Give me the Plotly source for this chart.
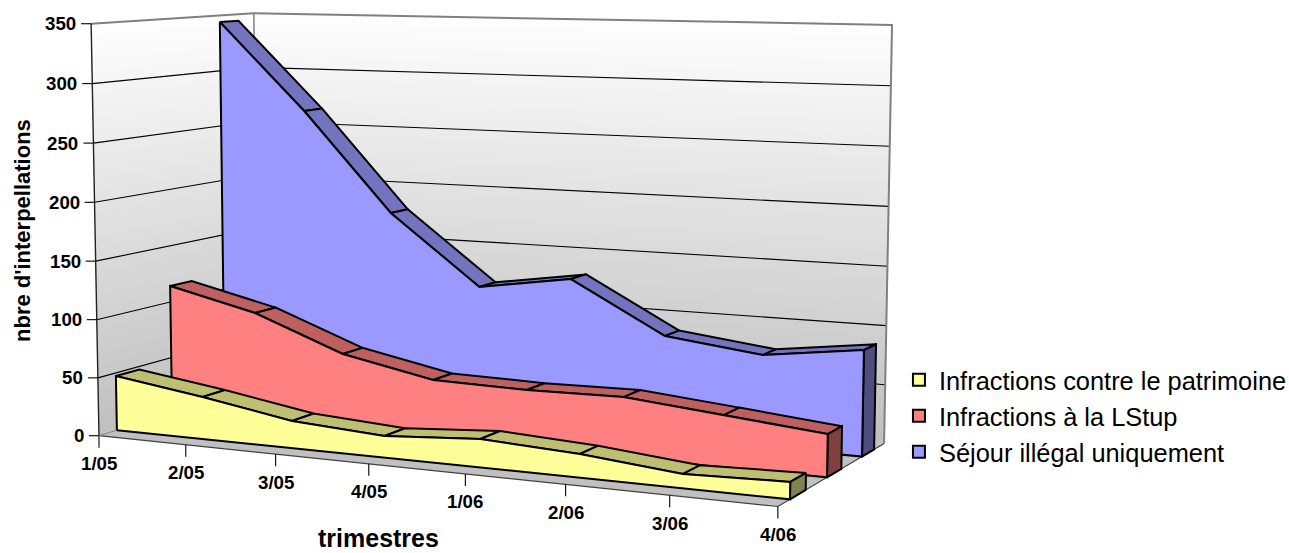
import numpy as np
import plotly.graph_objects as go

QUARTERS = ["1/05","2/05","3/05","4/05","1/06","2/06","3/06","4/06"]
YELLOW_VALUES = [47.3,36.1,23.0,18.0,23.3,19.0,11.3,13.4]
RED_VALUES = [114.3,95.9,66.2,50.4,48.8,50.0,42.5,34.7]
BLUE_VALUES = [344.1,266.3,178.9,118.4,130.7,87.5,77.7,88.3]
Z_TICKS = [0,50,100,150,200,250,300,350]
SERIES_NAMES = ["Infractions contre le patrimoine","Infractions à la LStup","Séjour illégal uniquement"]

W,H=1289,553
# camera calibration for the 3-D box: box corner (category, depth, value) -> page position
ANCHORS=[((0,0,0),(99,435)),((0,0,350),(91,24)),((0,1,350),(254,13)),((7,1,350),(892,25)),
         ((7,0,0),(778,507)),((7,1,0),(884,443)),((0,1,0),(258,387))]
def solve_camera():
    rows=[]
    for (x,d,z),(u,v) in ANCHORS:
        P=[x/7,d,z/350,1]
        rows.append([*P,0,0,0,0,*[-u/1000*c for c in P]])
        rows.append([0,0,0,0,*P,*[-v/1000*c for c in P]])
    return np.linalg.svd(np.array(rows))[2][-1].reshape(3,4)
M=solve_camera()
def project(x,d,z):
    h=M@np.array([x/7,d,z/350,1.0])
    return float(1000*h[0]/h[2]),float(1000*h[1]/h[2])

fig=go.Figure()
def poly(pts,fill=None,line='black',width=2,closed=True):
    P=[project(*p) for p in pts]
    xs=[q[0] for q in P];ys=[q[1] for q in P]
    if closed: xs.append(xs[0]);ys.append(ys[0])
    fig.add_trace(go.Scatter(x=xs,y=ys,mode='lines' if line else 'none',fill='toself' if fill else 'none',fillcolor=fill,
        line=dict(color=line or 'rgba(0,0,0,0)',width=width),hoverinfo='skip',showlegend=False))
def slab(vals,d0,d1,cf,ct,cs):
    n=len(vals)
    for t in range(n-1):
        poly([(t,d0,vals[t]),(t,d1,vals[t]),(t+1,d1,vals[t+1]),(t+1,d0,vals[t+1])],ct)
    poly([(n-1,d0,0),(n-1,d0,vals[-1]),(n-1,d1,vals[-1]),(n-1,d1,0)],cs)
    poly([(0,d0,0)]+[(t,d0,vals[t]) for t in range(n)]+[(n-1,d0,0)],cf)

# walls: gradient drawn by overpainting from the floor upward
GRAD_Z=list(range(0,350,10))
for z in GRAD_Z:
    g=int(round(0xc0+(0xff-0xc0)*z/350))
    c=f'rgb({g},{g},{g})'
    poly([(0,0,z),(0,1,z),(0,1,350),(0,0,350)],c,line=None)
    poly([(0,1,z),(7,1,z),(7,1,350),(0,1,350)],c,line=None)
poly([(0,0,0),(7,0,0),(7,1,0),(0,1,0)],'#c0c0c0',line=None)
for z in Z_TICKS[1:-1]:
    poly([(0,0,z),(0,1,z),(7,1,z)],line='black',width=1.1,closed=False)
poly([(0,0,350),(0,1,350),(7,1,350),(7,1,0)],line='#808080',width=2,closed=False)
poly([(0,1,350),(0,1,0)],line='#808080',width=1.5,closed=False)
poly([(0,0,0),(0,0,350)],line='#222222',width=1.4,closed=False)
poly([(0,0,0),(7,0,0),(7,1,0)],line='#404040',width=1.2,closed=False)
poly([(0,0,0),(0,1,0)],line='#808080',width=1,closed=False)

slab(BLUE_VALUES,0.773,0.896,'#9999FF','#7373BF','#4D4D80')
slab(RED_VALUES,0.435,0.570,'#FF8080','#BF6060','#804040')
slab(YELLOW_VALUES,0.103,0.241,'#FFFF99','#BFBF73','#808050')

TF=dict(family='Liberation Sans',size=18.7,color='black',weight='bold')
for z in Z_TICKS:
    u,v=project(0,0,z)
    fig.add_trace(go.Scatter(x=[u-10,u],y=[v,v],mode='lines',line=dict(color='black',width=1.1),hoverinfo='skip',showlegend=False))
    fig.add_annotation(x=u-13,y=v,text=str(z),showarrow=False,xanchor='right',yanchor='middle',font=TF)
for t,q in enumerate(QUARTERS):
    u,v=project(t,0,0)
    fig.add_trace(go.Scatter(x=[u,u],y=[v,v+12],mode='lines',line=dict(color='black',width=1.1),hoverinfo='skip',showlegend=False))
    fig.add_annotation(x=u,y=v+28,text=q,showarrow=False,xanchor='center',yanchor='middle',font=TF)

fig.add_annotation(x=378,y=538,text='trimestres',showarrow=False,font=dict(family='Liberation Sans',size=25,color='black',weight='bold'))
fig.add_annotation(x=22,y=231,text="nbre d'interpellations",textangle=-90,showarrow=False,font=dict(family='Liberation Sans',size=22,color='black',weight='bold'))
for nm,col in zip(SERIES_NAMES,('#FFFF99','#FF8080','#9999FF')):
    fig.add_trace(go.Scatter(x=[None],y=[None],mode='markers',name=nm,marker=dict(symbol='square',size=14,color=col,line=dict(color='black',width=1.5))))
fig.update_layout(width=W,height=H,autosize=False,margin=dict(l=0,r=0,t=0,b=0,autoexpand=False),paper_bgcolor='white',plot_bgcolor='white',
  xaxis=dict(visible=False,range=[0,W],fixedrange=True),yaxis=dict(visible=False,range=[H,0],fixedrange=True),
  legend=dict(x=0.6974,y=0.3548,xanchor='left',yanchor='top',font=dict(family='Liberation Sans',size=25.4,color='black'),itemsizing='constant',bgcolor='rgba(0,0,0,0)'))
fig.write_html("out.html",config={'displayModeBar':False},post_script="document.body.style.margin='0';")
